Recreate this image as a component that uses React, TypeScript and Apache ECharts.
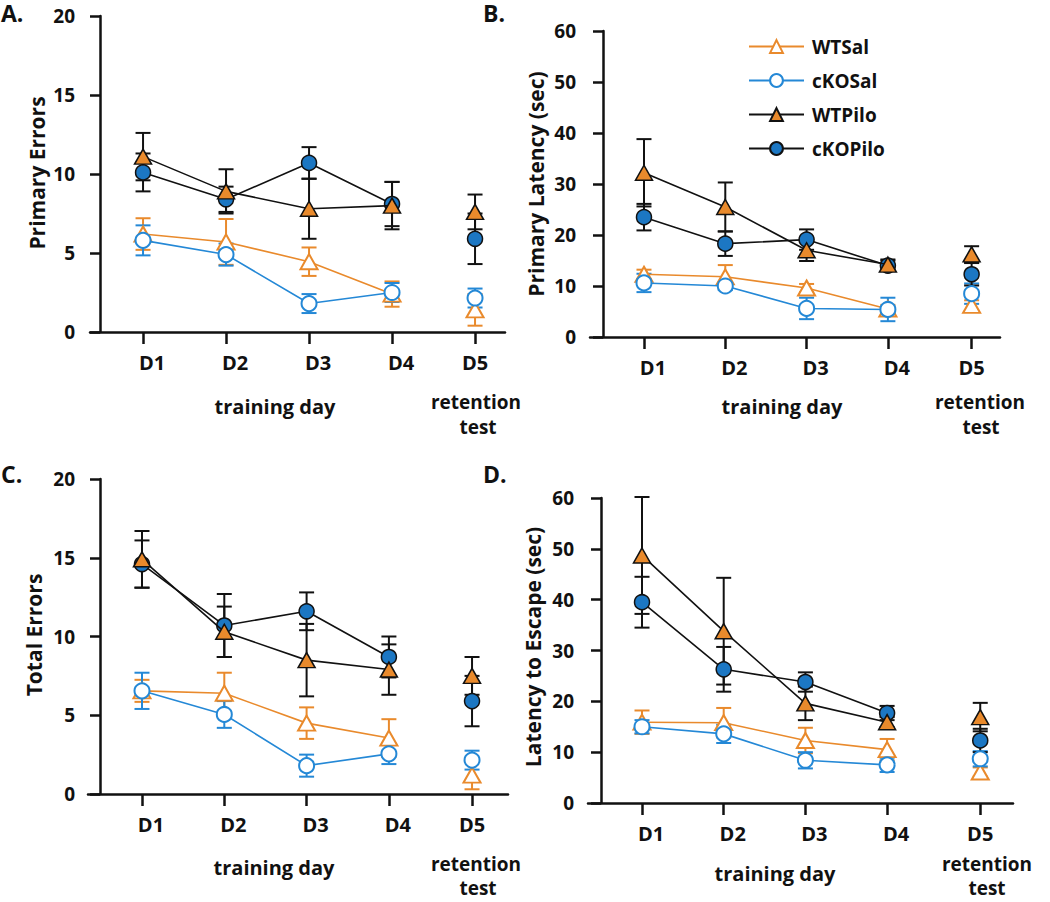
import React, { useEffect, useRef } from "react";
import * as echarts from "echarts";

// ---------- data ----------
const days = ["D1", "D2", "D3", "D4", "D5"];
const groups = ["WTSal", "cKOSal", "WTPilo", "cKOPilo"];

// Panel A: Primary Errors
const aWTSal = [6.2, 5.7, 4.45, 2.4, 1.4];
const aWTSalErr = [1.0, 1.45, 0.9, 0.8, 1.0];
const aCKOSal = [5.8, 4.9, 1.8, 2.5, 2.15];
const aCKOSalErr = [0.95, 0.7, 0.6, 0.6, 0.6];
const aWTPilo = [11.1, 8.9, 7.8, 8.0, 7.6];
const aWTPiloErr = [1.5, 1.4, 1.9, 1.5, 1.1];
const aCKOPilo = [10.1, 8.4, 10.7, 8.1, 5.9];
const aCKOPiloErr = [1.2, 0.8, 1.0, 1.4, 1.6];

// Panel B: Primary Latency (sec)
const bWTSal = [12.3, 11.8, 9.6, 5.5, 6.2];
const bWTSalErr = [0.9, 2.3, 0.8, 0.8, 1.0];
const bCKOSal = [10.6, 10.0, 5.6, 5.4, 8.5];
const bCKOSalErr = [1.8, 0.8, 2.1, 2.3, 2.0];
const bWTPilo = [32.2, 25.5, 17.0, 14.2, 16.2];
const bWTPiloErr = [6.6, 4.8, 2.1, 1.0, 1.6];
const bCKOPilo = [23.5, 18.3, 19.1, 14.0, 12.3];
const bCKOPiloErr = [2.6, 2.4, 2.0, 1.0, 2.2];

// Panel C: Total Errors
const cWTSal = [6.55, 6.4, 4.5, 3.55, 1.2];
const cWTSalErr = [0.7, 1.3, 1.0, 1.2, 0.9];
const cCKOSal = [6.55, 5.05, 1.8, 2.55, 2.15];
const cCKOSalErr = [1.15, 0.85, 0.7, 0.65, 0.6];
const cWTPilo = [14.9, 10.3, 8.5, 7.9, 7.5];
const cWTPiloErr = [1.8, 1.6, 2.3, 1.6, 1.2];
const cCKOPilo = [14.6, 10.7, 11.6, 8.7, 5.9];
const cCKOPiloErr = [1.5, 2.0, 1.2, 1.3, 1.6];

// Panel D: Latency to Escape (sec)
const dWTSal = [15.9, 15.8, 12.3, 10.5, 6.1];
const dWTSalErr = [2.3, 2.9, 2.5, 2.1, 0.9];
const dCKOSal = [15.0, 13.6, 8.4, 7.5, 8.7];
const dCKOSalErr = [1.3, 1.8, 1.6, 1.4, 1.5];
const dWTPilo = [48.7, 33.8, 19.6, 15.9, 16.9];
const dWTPiloErr = [11.5, 10.5, 3.3, 1.0, 2.8];
const dCKOPilo = [39.5, 26.3, 23.8, 17.7, 12.3];
const dCKOPiloErr = [5.0, 4.4, 1.9, 1.4, 2.3];

const yNames = ["Primary Errors", "Primary Latency (sec)", "Total Errors", "Latency to Escape (sec)"];
const panelLetters = ["A.", "B.", "C.", "D."];

// ---------- styling / layout ----------
const FONT = '"Open Sans", Lato, "DejaVu Sans", sans-serif';
const ORANGE = "#E98A2C";
const BLUE = "#1C77C3";
const BLUE_OPEN = "#2488D6";

type Panel = {
  vals: number[][];
  errs: number[][];
  grid: { left: number; top: number; width: number; height: number };
  xMin: number;
  xMax: number;
  d5: number;
  yMax: number;
  yInterval: number;
  yOffset: number;
  yLabelMargin: number;
  yName: [number, number];
  letter: [number, number];
  train: [number, number];
  ret: [number, number];
  test: [number, number];
};

const panels: Panel[] = [
  {
    vals: [aWTSal, aCKOSal, aWTPilo, aCKOPilo],
    errs: [aWTSalErr, aCKOSalErr, aWTPiloErr, aCKOPiloErr],
    grid: { left: 90, top: 16, width: 415, height: 316 },
    xMin: 0.361, xMax: 5.361, d5: 5,
    yMax: 20, yInterval: 5, yOffset: -10, yLabelMargin: 25,
    yName: [37, 173], letter: [1, 1], train: [275, 406], ret: [476, 402], test: [478, 427],
  },
  {
    vals: [bWTSal, bCKOSal, bWTPilo, bCKOPilo],
    errs: [bWTSalErr, bCKOSalErr, bWTPiloErr, bCKOPiloErr],
    grid: { left: 590, top: 31, width: 410, height: 306 },
    xMin: 0.336, xMax: 5.379, d5: 5.03,
    yMax: 60, yInterval: 10, yOffset: -13, yLabelMargin: 27,
    yName: [536, 184], letter: [483, 1], train: [782, 406], ret: [980, 402], test: [981, 427],
  },
  {
    vals: [cWTSal, cCKOSal, cWTPilo, cCKOPilo],
    errs: [cWTSalErr, cCKOSalErr, cWTPiloErr, cCKOPiloErr],
    grid: { left: 88, top: 479, width: 420, height: 315 },
    xMin: 0.344, xMax: 5.447, d5: 5.01,
    yMax: 20, yInterval: 5, yOffset: -12, yLabelMargin: 25,
    yName: [34, 635], letter: [1, 462], train: [274, 867], ret: [476, 864], test: [478, 888],
  },
  {
    vals: [dWTSal, dCKOSal, dWTPilo, dCKOPilo],
    errs: [dWTSalErr, dCKOSalErr, dWTPiloErr, dCKOPiloErr],
    grid: { left: 588, top: 498, width: 425, height: 305 },
    xMin: 0.339, xMax: 5.541, d5: 5.14,
    yMax: 60, yInterval: 10, yOffset: -13, yLabelMargin: 27,
    yName: [533, 647], letter: [483, 462], train: [775, 873], ret: [987, 864], test: [987, 888],
  },
];

const groupStyle = [
  { symbol: "triangle", size: [17, 15], line: ORANGE, fill: "#ffffff", border: ORANGE, bw: 2, err: ORANGE },
  { symbol: "circle", size: 15, line: BLUE_OPEN, fill: "#ffffff", border: BLUE_OPEN, bw: 2, err: BLUE_OPEN },
  { symbol: "triangle", size: [17, 15], line: "#111111", fill: ORANGE, border: "#111111", bw: 1.5, err: "#111111" },
  { symbol: "circle", size: 15, line: "#111111", fill: BLUE, border: "#111111", bw: 1.5, err: "#111111" },
];

function buildOption() {
  const grids: any[] = [];
  const xAxes: any[] = [];
  const yAxes: any[] = [];
  const series: any[] = [];
  const graphics: any[] = [];

  panels.forEach((p, i) => {
    const xs = [1, 2, 3, 4, p.d5];
    grids.push({ ...p.grid });
    xAxes.push({
      type: "value",
      gridIndex: i,
      min: p.xMin,
      max: p.xMax,
      splitLine: { show: false },
      axisLine: { show: true, onZero: false, lineStyle: { color: "#111", width: 2.5 } },
      axisTick: { show: true, customValues: xs, length: 12, lineStyle: { color: "#111", width: 2.5 } },
      axisLabel: {
        customValues: xs,
        margin: 20,
        formatter: (v: number) => {
          const idx = xs.findIndex((x) => Math.abs(x - v) < 1e-6);
          if (idx < 0) return "";
          return idx < 4 ? `{s|${days[idx]}}` : `{n|${days[idx]}}`;
        },
        rich: {
          s: { padding: [0, 0, 0, 18], fontSize: 20, fontWeight: "bold", fontFamily: FONT, color: "#111" },
          n: { fontSize: 20, fontWeight: "bold", fontFamily: FONT, color: "#111" },
        },
      },
    });
    yAxes.push({
      type: "value",
      gridIndex: i,
      min: 0,
      max: p.yMax,
      interval: p.yInterval,
      offset: p.yOffset,
      splitLine: { show: false },
      axisLine: { show: true, onZero: false, lineStyle: { color: "#111", width: 2.5 } },
      axisTick: { show: true, length: 10, lineStyle: { color: "#111", width: 2.5 } },
      axisLabel: { margin: p.yLabelMargin, fontSize: 19, fontWeight: "bold", fontFamily: FONT, color: "#111" },
    });

    // error bars
    groups.forEach((g, gi) => {
      const st = groupStyle[gi];
      series.push({
        type: "custom",
        name: g + "_err_" + i,
        xAxisIndex: i,
        yAxisIndex: i,
        z: 1,
        silent: true,
        data: p.vals[gi].map((v, k) => [xs[k], v, p.errs[gi][k]]),
        renderItem: (params: any, api: any) => {
          const x = api.value(0);
          const y = api.value(1);
          const e = api.value(2);
          const top = api.coord([x, y + e]);
          const bot = api.coord([x, y - e]);
          const hw = 7.5;
          const style = { stroke: st.err, lineWidth: 2 };
          return {
            type: "group",
            children: [
              { type: "line", shape: { x1: top[0], y1: top[1], x2: bot[0], y2: bot[1] }, style },
              { type: "line", shape: { x1: top[0] - hw, y1: top[1], x2: top[0] + hw, y2: top[1] }, style },
              { type: "line", shape: { x1: bot[0] - hw, y1: bot[1], x2: bot[0] + hw, y2: bot[1] }, style },
            ],
          };
        },
      });
    });

    // lines + markers; order so filled triangles sit on top
    const order = [0, 1, 3, 2];
    order.forEach((gi) => {
      const st = groupStyle[gi];
      const v = p.vals[gi];
      const data: any[] = [];
      for (let k = 0; k < 4; k++) data.push([xs[k], v[k]]);
      data.push([4.5, "-"]);
      data.push([xs[4], v[4]]);
      series.push({
        type: "line",
        name: groups[gi],
        xAxisIndex: i,
        yAxisIndex: i,
        z: 3 + order.indexOf(gi),
        data,
        connectNulls: false,
        symbol: st.symbol,
        symbolSize: st.size,
        showAllSymbol: true,
        lineStyle: { color: st.line, width: 1.6 },
        itemStyle: { color: st.fill, borderColor: st.border, borderWidth: st.bw, opacity: 1 },
        emphasis: { disabled: true },
      });
    });

    const tstyle = (size: number) => ({ fontSize: size, fontWeight: "bold", fontFamily: FONT, fill: "#111" });
    graphics.push({
      type: "text",
      x: p.letter[0],
      y: p.letter[1],
      style: { ...tstyle(23), text: panelLetters[i], textAlign: "left", textVerticalAlign: "top" },
    });
    graphics.push({
      type: "text",
      x: p.yName[0],
      y: p.yName[1],
      rotation: Math.PI / 2,
      style: { ...tstyle(21), text: yNames[i], textAlign: "center", textVerticalAlign: "middle" },
    });
    graphics.push({
      type: "text",
      x: p.train[0],
      y: p.train[1],
      style: { ...tstyle(20), text: "training day", textAlign: "center", textVerticalAlign: "middle" },
    });
    graphics.push({
      type: "text",
      x: p.ret[0],
      y: p.ret[1],
      style: { ...tstyle(19), text: "retention", textAlign: "center", textVerticalAlign: "middle" },
    });
    graphics.push({
      type: "text",
      x: p.test[0],
      y: p.test[1],
      style: { ...tstyle(19), text: "test", textAlign: "center", textVerticalAlign: "middle" },
    });
  });

  return {
    animation: false,
    backgroundColor: "#ffffff",
    textStyle: { fontFamily: FONT },
    grid: grids,
    xAxis: xAxes,
    yAxis: yAxes,
    legend: {
      data: groups,
      orient: "vertical",
      left: 743,
      top: 32,
      itemWidth: 55,
      itemHeight: 16,
      itemGap: 15,
      selectedMode: false,
      textStyle: { fontSize: 19, fontWeight: "bold", fontFamily: FONT, color: "#111", padding: [0, 0, 0, 3] },
    },
    graphic: graphics,
    series,
  };
}

export default function App() {
  const ref = useRef<HTMLDivElement>(null);
  useEffect(() => {
    if (!ref.current) return;
    const chart = echarts.init(ref.current, undefined, { renderer: "svg" });
    chart.setOption(buildOption() as any);
    return () => chart.dispose();
  }, []);
  return (
    <div
      ref={ref}
      style={{ position: "absolute", left: 0, top: 0, width: 1050, height: 902, background: "#fff" }}
    />
  );
}
